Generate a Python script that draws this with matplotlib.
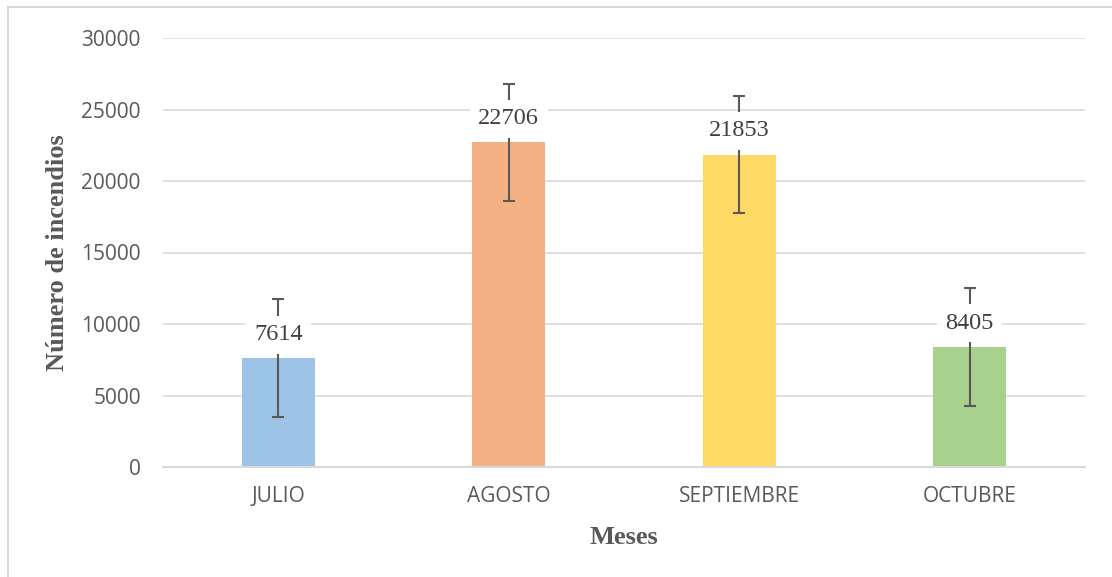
import matplotlib.pyplot as plt
from matplotlib.patches import Rectangle

meses = ['JULIO', 'AGOSTO', 'SEPTIEMBRE', 'OCTUBRE']
incendios = [7614, 22706, 21853, 8405]
errores = [4110, 4110, 4120, 4130]
colores = ['#9DC3E6', '#F4B183', '#FFD966', '#A9D18E']
yticks = [0, 5000, 10000, 15000, 20000, 25000, 30000]

gris = '#595959'

fig = plt.figure(figsize=(11.12, 5.77), dpi=100)
ax = fig.add_axes([163/1112, 1 - 467/577, 922/1112, 429/577])

# marco gris de la figura (solo se ven lados izq. y superior)
fig.patches.append(Rectangle((8/1112, -0.2), 1.2, 1.2 - 7/577,
                             transform=fig.transFigure, fill=False,
                             edgecolor='#D9D9D9', linewidth=1.5))

x = range(len(meses))
ax.bar(x, incendios, width=0.316, color=colores, zorder=2)
ax.errorbar(x, incendios, yerr=errores, fmt='none', ecolor=gris,
            elinewidth=1.5, capsize=4.5, capthick=1.5, zorder=3)

for i, v in enumerate(incendios):
    ax.annotate(str(v), (i, v), xytext=(0, 17), textcoords='offset points',
                ha='center', va='center', fontsize=17.5, color='#404040',
                family='Liberation Serif', zorder=4,
                bbox=dict(boxstyle='square,pad=0.35', fc='white', ec='none'))

ax.set_xlim(-0.5, 3.5)
ax.set_ylim(0, 30000)
ax.set_yticks(yticks)
ax.set_xticks(list(x))
ax.set_xticklabels(meses)
ax.grid(axis='y', color='#D9D9D9', linewidth=1.2, zorder=0)
ax.set_axisbelow(True)
for s in ['top', 'right', 'left']:
    ax.spines[s].set_visible(False)
ax.spines['bottom'].set_color('#D9D9D9')
ax.spines['bottom'].set_linewidth(1.5)
ax.tick_params(length=0, colors=gris, labelsize=15)
ax.tick_params(axis='y', pad=16)
ax.tick_params(axis='x', pad=14)
for t in ax.get_xticklabels() + ax.get_yticklabels():
    t.set_family('Open Sans')

ax.set_xlabel('Meses', fontsize=19, fontweight='bold', color=gris,
              family='Liberation Serif')
ax.set_ylabel('Número de incendios', fontsize=19, fontweight='bold',
              color=gris, family='Liberation Serif')
ax.xaxis.set_label_coords(0.5, (467 - 538) / 429)
ax.xaxis.label.set_va('center')
ax.yaxis.set_label_coords((58 - 163) / 922, 0.5)
ax.yaxis.label.set_va('center')

fig.savefig('out.png', dpi=100)
